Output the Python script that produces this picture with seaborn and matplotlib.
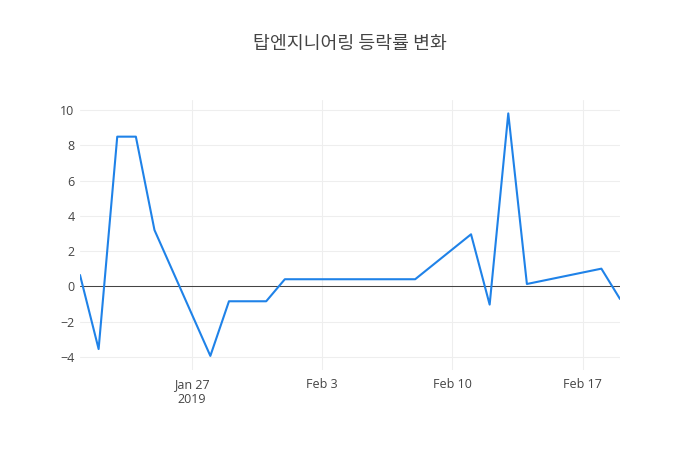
import matplotlib
matplotlib.use("Agg")
import matplotlib.pyplot as plt
import seaborn as sns
import pandas as pd

dates = ["2019-01-21", "2019-01-22", "2019-01-23", "2019-01-24", "2019-01-25",
         "2019-01-28", "2019-01-29", "2019-01-31", "2019-02-01", "2019-02-08",
         "2019-02-11", "2019-02-12", "2019-02-13", "2019-02-14", "2019-02-18",
         "2019-02-19"]
values = [0.64, -3.56, 8.49, 8.49, 3.19, -3.95, -0.85, -0.85, 0.40, 0.40,
          2.95, -1.04, 9.81, 0.13, 1.00, -0.72]
yticks = [-4, -2, 0, 2, 4, 6, 8, 10]
xtick_dates = ["2019-01-27", "2019-02-03", "2019-02-10", "2019-02-17"]
xtick_labels = ["Jan 27\n2019", "Feb 3", "Feb 10", "Feb 17"]
title = "탑엔지니어링 등락률 변화"

df = pd.DataFrame({"date": pd.to_datetime(dates), "value": values})

sns.set_theme(style="white")
plt.rcParams['font.family'] = ['Open Sans', 'Noto Sans CJK KR', 'DejaVu Sans']

fig = plt.figure(figsize=(7, 4.5), dpi=100)
ax = fig.add_axes([80/700, 1 - 370/450, 540/700, 270/450])

sns.lineplot(data=df, x="date", y="value", ax=ax, color="#1f82e8", linewidth=1.5)

ax.set_xlim(pd.Timestamp(dates[0]), pd.Timestamp(dates[-1]))
ax.set_ylim(-4.75, 10.57)

ax.set_yticks(yticks)
ax.set_yticklabels([str(v).replace("-", "\u2212") for v in yticks])
ax.set_xticks(pd.to_datetime(xtick_dates))
ax.set_xticklabels(xtick_labels)

ax.grid(True, color="#eeeeee", linewidth=0.75)
ax.axhline(0, color="#444444", linewidth=0.75, zorder=1.5)
for s in ax.spines.values():
    s.set_visible(False)
ax.tick_params(axis="both", length=0, labelsize=9, colors="#444444")
ax.tick_params(axis="y", pad=4)
ax.tick_params(axis="x", pad=6)
ax.set_xlabel("")
ax.set_ylabel("")

fig.text(0.5, 1 - 44/450, title, ha="center", va="center", fontsize=13.2,
         color="#444444", family=['Noto Sans CJK KR', 'DejaVu Sans'])

fig.savefig("out.png", dpi=100)
